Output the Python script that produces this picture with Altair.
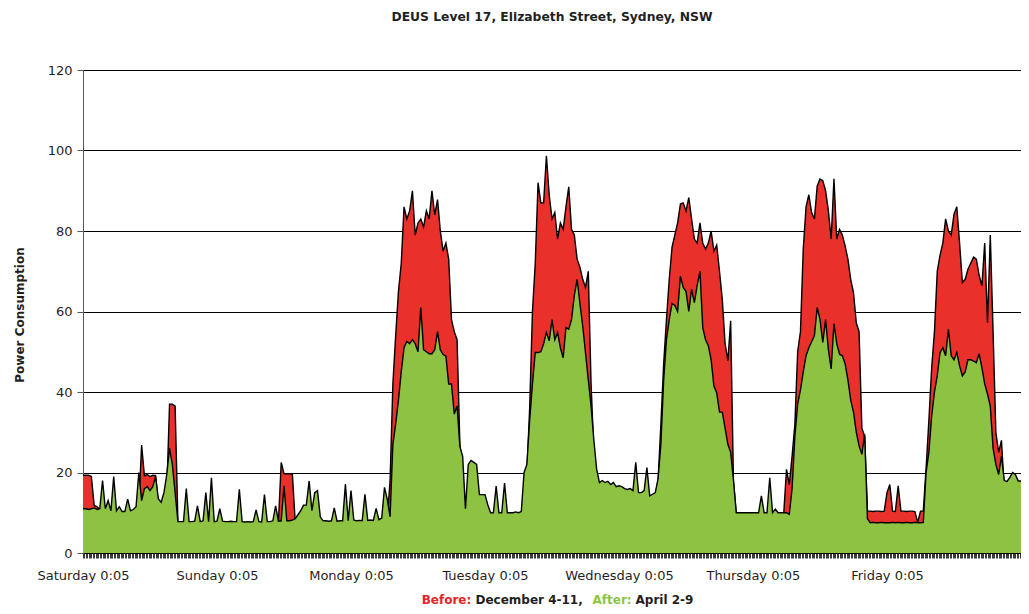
import altair as alt
import pandas as pd

TITLE = "DEUS Level 17, Elizabeth Street, Sydney, NSW"
Y_TITLE = "Power Consumption"
CAPTION_PARTS = ["Before:", "December 4-11,", "After:", "April 2-9"]
DAY_LABELS = ["Saturday 0:05", "Sunday 0:05", "Monday 0:05", "Tuesday 0:05",
              "Wednesday 0:05", "Thursday 0:05", "Friday 0:05"]
Y_TICKS = [0, 20, 40, 60, 80, 100, 120]

# half-hour readings, hour 0 = Saturday 0:05
SAT_AFTER = [11.0, 11.0, 10.8, 11.0, 11.2, 10.8, 11.0, 18.0, 11.0, 13.0, 10.5, 19.0,
             10.5, 11.5, 10.3, 10.3, 13.4, 10.5, 10.8, 11.5, 20.0, 13.0, 16.0, 16.5,
             15.5, 16.5, 19.0, 13.4, 12.6, 15.0, 19.5, 26.0, 22.0, 15.0, 7.8, 7.8,
             7.8, 16.0, 7.8, 7.8, 7.9, 11.7, 7.8, 8.0, 15.0, 7.8, 18.7, 7.8]
SAT_BEFORE = [19.3, 19.3, 19.3, 19.0, 11.8, 11.5, 10.8, 10.8, 10.6, 10.6, 10.3, 10.3,
              10.2, 10.2, 10.0, 10.0, 10.2, 10.2, 10.5, 11.0, 12.0, 26.8, 19.2, 19.5,
              19.0, 19.3, 19.2, 12.0, 11.5, 12.0, 15.0, 37.0, 37.0, 36.5, 7.8, 7.6,
              7.6, 7.8, 7.6, 7.6, 7.7, 7.7, 7.6, 7.7, 7.7, 7.6, 7.7, 7.6]
SUN_AFTER = [7.9, 11.0, 7.9, 7.8, 7.8, 7.9, 7.8, 7.8, 15.8, 7.8, 7.7, 7.8,
             7.7, 7.8, 10.7, 7.8, 7.7, 14.5, 7.8, 7.8, 8.0, 11.7, 7.9, 8.0,
             16.7, 8.0, 8.0, 8.2, 8.5, 9.5, 10.5, 11.9, 11.9, 17.9, 10.5, 15.0,
             15.5, 9.0, 8.0, 8.0, 7.9, 8.0, 11.2, 7.9, 8.0, 8.0, 17.1, 8.0]
SUN_BEFORE = [7.7, 7.7, 7.6, 7.6, 7.6, 7.7, 7.6, 7.6, 7.7, 7.6, 7.5, 7.6,
              7.5, 7.6, 7.6, 7.6, 7.6, 10.0, 7.6, 7.6, 7.7, 7.7, 7.7, 22.5,
              19.7, 19.7, 19.7, 19.6, 8.0, 8.0, 8.2, 8.5, 8.5, 8.5, 8.2, 8.2,
              8.0, 7.8, 7.7, 7.7, 7.6, 7.7, 7.7, 7.6, 7.7, 7.7, 7.8, 7.7]
MON_AFTER = [15.5, 8.2, 8.0, 8.1, 8.0, 14.6, 8.1, 8.2, 8.1, 11.1, 8.3, 8.7,
             16.3, 13.3, 9.0, 27.0, 32.0, 38.0, 45.0, 51.0, 52.6, 52.0, 53.0, 52.0,
             50.0, 61.0, 50.5, 50.0, 49.5, 49.5, 50.5, 55.0, 50.5, 49.3, 48.9, 42.0,
             42.0, 34.5, 36.5, 26.5, 24.0, 11.0, 22.0, 23.0, 22.5, 22.0, 14.5, 14.5]
MON_BEFORE = [7.8, 7.8, 7.7, 7.8, 7.7, 7.8, 7.8, 7.8, 7.8, 8.0, 8.0, 8.2,
              8.3, 8.5, 18.0, 42.0, 54.0, 65.0, 72.0, 86.0, 83.0, 85.0, 90.0, 79.0,
              82.0, 83.0, 81.0, 85.0, 83.0, 90.0, 84.0, 87.8, 80.0, 75.0, 77.0, 73.0,
              58.0, 55.0, 53.0, 27.0, 20.0, 10.0, 12.0, 12.0, 12.0, 12.0, 11.0, 10.0]
TUE_AFTER = [14.5, 12.0, 10.0, 10.0, 16.6, 10.0, 10.0, 17.4, 10.0, 10.0, 10.0, 10.2,
             10.0, 10.3, 20.0, 22.0, 33.0, 42.0, 49.8, 49.8, 50.0, 52.0, 54.8, 52.7,
             58.0, 53.0, 54.8, 51.0, 48.5, 56.0, 55.6, 58.0, 64.0, 68.0, 62.0, 56.4,
             49.8, 43.0, 36.5, 28.0, 20.8, 17.5, 18.0, 17.5, 17.8, 17.0, 17.5, 16.5]
TUE_BEFORE = [9.5, 9.5, 9.5, 9.5, 9.5, 9.5, 9.5, 9.5, 9.5, 9.5, 9.5, 9.6,
              9.5, 9.6, 12.0, 20.0, 36.0, 60.0, 72.0, 92.0, 87.0, 87.0, 98.7, 89.0,
              83.0, 84.6, 78.0, 82.0, 80.4, 86.0, 91.0, 80.4, 79.0, 73.0, 71.0, 68.0,
              66.0, 70.0, 42.0, 25.0, 19.5, 16.5, 16.5, 16.0, 16.0, 16.0, 16.0, 15.5]
WED_AFTER = [16.7, 16.5, 16.0, 15.8, 16.0, 15.5, 22.5, 15.0, 15.0, 15.5, 21.2, 14.2,
             14.6, 15.0, 18.5, 27.0, 43.0, 53.0, 58.0, 62.0, 61.5, 60.0, 68.8, 66.0,
             65.0, 60.0, 65.5, 62.2, 66.4, 70.0, 56.0, 53.0, 51.5, 48.0, 41.5, 39.8,
             35.0, 35.0, 31.0, 27.0, 25.0, 18.0, 10.0, 10.0, 10.0, 10.0, 10.0, 10.0]
WED_BEFORE = [16.0, 16.0, 15.5, 15.2, 15.5, 15.0, 15.0, 14.5, 14.5, 14.5, 14.5, 14.0,
              14.0, 14.5, 18.0, 32.0, 47.0, 58.0, 68.0, 76.0, 79.0, 82.0, 86.7, 87.0,
              85.0, 88.3, 83.0, 78.0, 77.0, 82.0, 77.0, 75.5, 77.0, 80.0, 75.0, 76.5,
              70.0, 63.0, 52.0, 47.8, 57.7, 18.0, 9.8, 9.7, 9.7, 9.7, 9.7, 9.7]
THU_AFTER = [10.0, 10.0, 10.0, 14.2, 10.0, 10.0, 18.7, 10.0, 10.9, 10.0, 10.0, 10.0,
             10.0, 9.6, 16.0, 29.0, 37.0, 40.5, 45.0, 49.0, 51.0, 52.5, 54.0, 61.0,
             58.0, 52.3, 58.0, 50.6, 45.7, 57.0, 52.0, 49.4, 49.0, 47.0, 43.0, 38.0,
             35.0, 30.0, 26.6, 24.5, 29.5, 8.5, 7.5, 7.6, 7.5, 7.5, 7.6, 7.5]
THU_BEFORE = [9.7, 9.7, 9.7, 9.7, 9.7, 9.7, 9.7, 9.7, 9.7, 9.7, 9.7, 9.7,
              20.8, 17.0, 24.0, 32.0, 50.0, 55.0, 75.5, 86.0, 89.0, 84.6, 83.0, 91.2,
              92.9, 92.5, 90.0, 85.0, 78.0, 93.0, 78.0, 80.4, 79.0, 76.3, 73.0, 68.0,
              64.7, 57.2, 55.0, 31.0, 29.0, 10.4, 10.4, 10.3, 10.4, 10.4, 10.3, 10.4]
FRI_AFTER = [7.5, 7.5, 7.6, 7.5, 7.6, 7.5, 7.5, 7.6, 7.5, 7.5, 7.6, 7.5,
             7.5, 7.6, 20.0, 25.0, 34.0, 40.0, 44.0, 49.8, 51.0, 49.0, 55.6, 49.0,
             48.0, 49.8, 46.5, 44.0, 45.0, 48.0, 48.0, 47.7, 47.3, 49.5, 46.0, 42.0,
             39.5, 36.5, 26.0, 22.0, 19.5, 24.0, 18.0, 17.8, 18.8, 20.0, 19.5, 17.9,
             17.9]
FRI_BEFORE = [15.0, 17.0, 10.4, 10.3, 16.7, 10.4, 10.4, 10.3, 10.4, 10.4, 10.3, 7.6,
              10.4, 10.4, 21.0, 33.0, 46.0, 55.0, 70.0, 74.0, 77.0, 83.0, 80.0, 79.0,
              84.2, 86.0, 77.0, 67.2, 68.0, 70.5, 72.0, 73.5, 73.0, 69.0, 66.4, 77.0,
              57.2, 79.0, 55.0, 30.0, 25.0, 28.0, 16.0, 17.0, 17.0, 17.0, 17.0, 17.0,
              17.0]

AFTER = SAT_AFTER + SUN_AFTER + MON_AFTER + TUE_AFTER + WED_AFTER + THU_AFTER + FRI_AFTER
BEFORE = SAT_BEFORE + SUN_BEFORE + MON_BEFORE + TUE_BEFORE + WED_BEFORE + THU_BEFORE + FRI_BEFORE
HOURS = [i * 0.5 for i in range(len(AFTER))]

df = pd.DataFrame({"hour": HOURS, "before": BEFORE, "after": AFTER})

RED = "#E9302A"
GREEN = "#8DC243"
CAP_RED = "#E2262B"
CAP_GREEN = "#8CC63F"
FONT = "DejaVu Sans"
TXT = "#1f1f1f"

W, H = 938, 483

tick_vals = [i * 0.25 for i in range(0, 168 * 4 + 1)]
label_js = "[" + ",".join("'%s'" % d for d in DAY_LABELS) + "]"
label_expr = ("(datum.value % 24 == 0 && datum.value < 168) ? "
              + label_js + "[floor(datum.value / 24)] : ''")

x_axis = alt.Axis(values=tick_vals, labelExpr=label_expr, labelOverlap=False,
                  tickSize=5, tickColor="#3a3a3a", tickWidth=1, domainColor="#000000",
                  domainWidth=1, labelFont=FONT, labelFontSize=13, labelColor=TXT,
                  labelPadding=11, grid=False, title=None, labelFlush=False)
y_axis = alt.Axis(values=Y_TICKS, grid=True, gridColor="#000000", gridWidth=1,
                  gridOpacity=1, tickSize=6, tickColor="#555555", domainColor="#555555",
                  labelFont=FONT, labelFontSize=13, labelColor=TXT, labelPadding=5,
                  title=None)

xs = alt.X("hour:Q", scale=alt.Scale(domain=[0, 168], nice=False, zero=False), axis=x_axis)
ysc = alt.Scale(domain=[0, 120], nice=False)

base = alt.Chart(df)
red = base.mark_area(color=RED, opacity=1,
                     line={"color": "#000000", "strokeWidth": 1.4}).encode(
    x=xs, y=alt.Y("before:Q", scale=ysc, axis=y_axis))
green = base.mark_area(color=GREEN, opacity=1,
                       line={"color": "#000000", "strokeWidth": 1.4}).encode(
    x=xs, y=alt.Y("after:Q", scale=ysc, axis=y_axis))


def label(text, x, y, color=TXT, bold=True, align="center", angle=0, size=12):
    return alt.Chart(pd.DataFrame({"t": [text]})).mark_text(
        font=FONT, fontSize=size, fontWeight="bold" if bold else "normal",
        color=color, align=align, baseline="middle", angle=angle
    ).encode(text="t:N", x=alt.value(x), y=alt.value(y))


title = label(TITLE, W / 2, -53, size=12.3)
ytitle = label(Y_TITLE, -63, 245, angle=270)

CAP_Y = 530
cap1 = label(CAPTION_PARTS[0], 338.7, CAP_Y, color=CAP_RED, align="left")
cap2 = label(CAPTION_PARTS[1], 392.5, CAP_Y, align="left")
cap3 = label(CAPTION_PARTS[2], 509.5, CAP_Y, color=CAP_GREEN, align="left")
cap4 = label(CAPTION_PARTS[3], 552.5, CAP_Y, align="left")

chart = alt.layer(red, green, title, ytitle, cap1, cap2, cap3, cap4).properties(
    width=W, height=H,
    autosize=alt.AutoSizeParams(type="none"),
    padding={"left": 75, "top": 62, "right": 0, "bottom": 57},
    background="white",
).configure_view(stroke="#bdbdbd", strokeWidth=1)

chart.save("out.html", embed_options={"renderer": "svg", "actions": False})
